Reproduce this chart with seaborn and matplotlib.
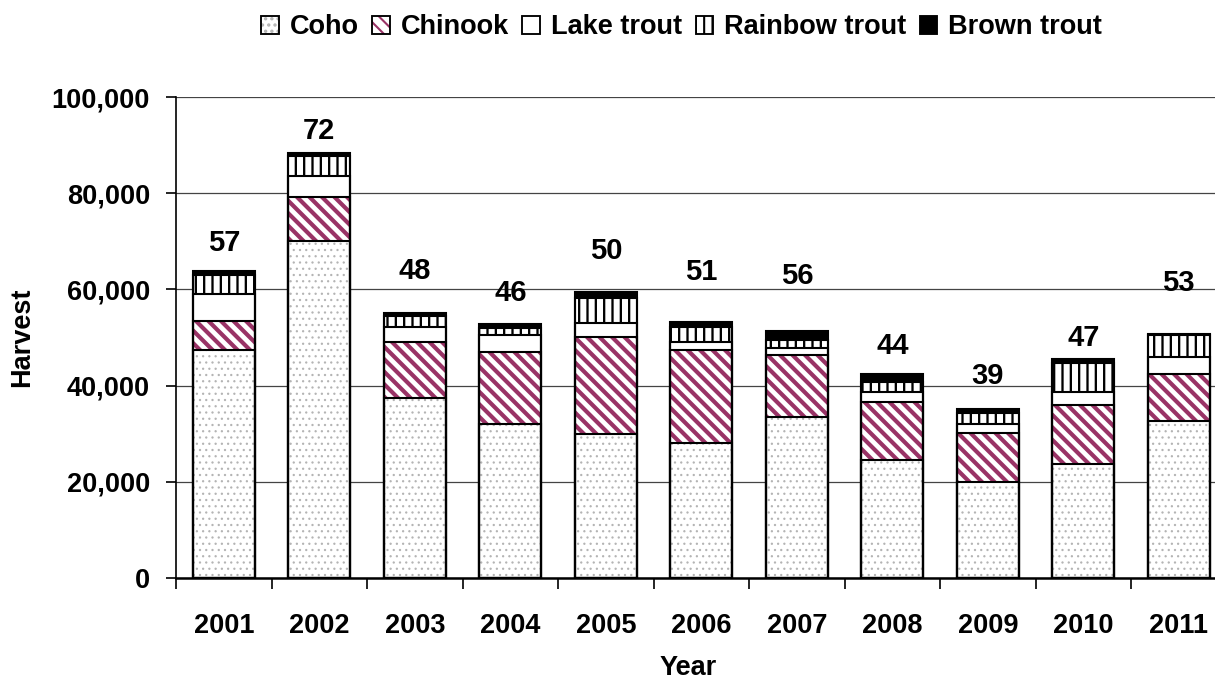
import matplotlib
matplotlib.use("Agg")
import matplotlib.pyplot as plt
from matplotlib.patches import Patch
from matplotlib.ticker import FuncFormatter, MultipleLocator, FixedLocator
import numpy as np
import seaborn as sns

# --- datos (cosecha por año, peces) ---
years = ["2001", "2002", "2003", "2004", "2005", "2006", "2007", "2008", "2009", "2010", "2011"]
coho = [47500, 70000, 37500, 32000, 30000, 28000, 33500, 24500, 20000, 23700, 32700]
chinook = [5900, 9200, 11600, 15000, 20100, 19400, 12900, 12100, 10100, 12300, 9700]
lake_trout = [5600, 4400, 3100, 3500, 2900, 1700, 1400, 2100, 1900, 2700, 3500]
rainbow_trout = [4000, 4100, 2300, 1500, 5200, 3100, 1700, 2000, 2300, 6000, 4700]
brown_trout = [800, 600, 600, 800, 1300, 1000, 1900, 1700, 800, 800, 200]
top_labels = [57, 72, 48, 46, 50, 51, 56, 44, 39, 47, 53]
top_label_y = [69600, 93000, 63800, 59200, 68000, 63600, 62800, 48200, 42000, 49900, 61300]

species = ["Coho", "Chinook", "Lake trout", "Rainbow trout", "Brown trout"]
series = [coho, chinook, lake_trout, rainbow_trout, brown_trout]

# estilo de cada serie: (fondo, color del trama, trama, grosor trama)
styles = {
    "Coho": ("white", "#b4b4b4", "....", 0.5),
    "Chinook": ("white", "#993366", "\\\\\\\\", 2.0),
    "Lake trout": ("white", "black", None, 1.0),
    "Rainbow trout": ("white", "black", "|||", 1.1),
    "Brown trout": ("black", "black", None, 1.0),
}

sns.set_theme(style="white")
plt.rcParams["font.family"] = ["Liberation Sans", "DejaVu Sans"]
plt.rcParams["font.weight"] = "bold"
plt.rcParams["hatch.linewidth"] = 1.0
for k in ["text.color", "axes.labelcolor", "xtick.color", "ytick.color"]:
    plt.rcParams[k] = "black"

fig = plt.figure(figsize=(8.1, 4.54), dpi=150)
ax = fig.add_axes([0.1449, 0.1512, 0.8646, 0.7063])

cum = np.cumsum(np.array(series, dtype=float), axis=0)
BAR_W = 0.65
EDGE_LW = 1.0

# de arriba hacia abajo: cada capa tapa la parte inferior de la anterior
for i in range(len(species) - 1, -1, -1):
    name = species[i]
    face, hcol, hatch, hlw = styles[name]
    n0 = len(ax.patches)
    sns.barplot(x=years, y=cum[i], color=face, saturation=1, width=BAR_W,
                edgecolor=hcol, linewidth=0, hatch=hatch, ax=ax, zorder=2)
    for p in ax.patches[n0:]:
        p.set_facecolor(face)
        if hasattr(p, "set_hatch_linewidth"):
            p.set_hatch_linewidth(hlw)
    sns.barplot(x=years, y=cum[i], fill=False, color="black", width=BAR_W,
                edgecolor="black", linewidth=EDGE_LW, ax=ax, zorder=3)

# etiquetas sobre las barras
for j, (lab, yy) in enumerate(zip(top_labels, top_label_y)):
    ax.text(j, yy, str(lab), ha="center", va="center", fontsize=14,
            fontweight="bold", color="black", zorder=5)

# ejes
ax.set_xlim(-0.5, len(years) - 0.5)
ax.set_ylim(0, 100000)
ax.yaxis.set_major_locator(MultipleLocator(20000))
ax.yaxis.set_major_formatter(FuncFormatter(lambda v, _: f"{int(v):,}"))
ax.grid(axis="y", color="#444444", linewidth=0.6)
ax.grid(axis="x", visible=False)
ax.set_axisbelow(True)

for side in ["top", "right"]:
    ax.spines[side].set_visible(False)
ax.spines["left"].set_color("black")
ax.spines["left"].set_linewidth(0.8)
ax.spines["bottom"].set_color("black")
ax.spines["bottom"].set_linewidth(1.2)

ax.tick_params(axis="y", which="major", left=True, length=5, width=0.8,
               color="black", pad=7.5, labelsize=13)
ax.xaxis.set_minor_locator(FixedLocator(np.arange(-0.5, len(years), 1.0)))
ax.tick_params(axis="x", which="major", bottom=False, length=0, pad=17, labelsize=13)
ax.tick_params(axis="x", which="minor", bottom=True, length=5.5, width=0.8, color="black")
for t in ax.get_xticklabels() + ax.get_yticklabels():
    t.set_fontweight("bold")

ax.set_xlabel("Year", fontsize=13, fontweight="bold")
ax.xaxis.set_label_coords((688 - 176) / 1050.5, -0.16)
ax.set_ylabel("Harvest", fontsize=13, fontweight="bold", labelpad=8)

# leyenda
handles = []
for name in species:
    face, hcol, hatch, hlw = styles[name]
    base = Patch(facecolor=face, edgecolor=hcol, hatch=hatch, linewidth=0)
    if hasattr(base, "set_hatch_linewidth"):
        base.set_hatch_linewidth(hlw)
    outline = Patch(facecolor="none", edgecolor="black", linewidth=0.9)
    handles.append((base, outline))
fig.legend(handles, species, loc="center", bbox_to_anchor=(0.561, 0.96),
           ncol=5, frameon=False, prop={"size": 13, "weight": "bold"},
           handlelength=0.65, handleheight=0.65, handletextpad=0.4,
           columnspacing=0.5, borderaxespad=0)

fig.savefig("out.png", dpi=150)
